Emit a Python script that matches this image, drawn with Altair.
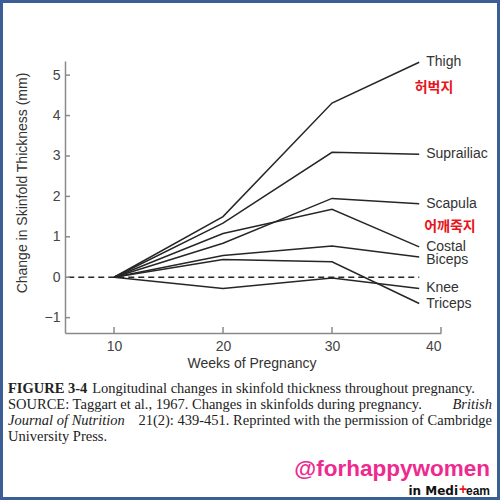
import altair as alt
import pandas as pd

# ---- data ----
weeks = [10, 20, 30, 38]
sites = ["Thigh", "Suprailiac", "Scapula", "Costal", "Biceps", "Knee", "Triceps"]
thigh = [0, 1.50, 4.31, 5.32]
suprailiac = [0, 1.34, 3.09, 3.04]
scapula = [0, 0.84, 1.95, 1.82]
costal = [0, 1.08, 1.68, 0.75]
biceps = [0, 0.54, 0.77, 0.50]
knee = [0, -0.28, -0.02, -0.28]
triceps = [0, 0.44, 0.38, -0.65]
label_y = [5.32, 3.04, 1.81, 0.74, 0.42, -0.27, -0.67]
x_ticks = [10, 20, 30, 40]
y_ticks = [-1, 0, 1, 2, 3, 4, 5]
zero_line_x = [5.8, 38]

series = [thigh, suprailiac, scapula, costal, biceps, knee, triceps]
rows = []
for name, vals in zip(sites, series):
    for w, v in zip(weeks, vals):
        rows.append({"site": name, "week": w, "value": v})
df = pd.DataFrame(rows)
lab_df = pd.DataFrame({"site": sites, "week": [weeks[-1]] * len(sites), "value": label_y})
zero_df = pd.DataFrame({"week": [zero_line_x[0]], "week2": [zero_line_x[1]], "value": [0]})
xt_df = pd.DataFrame({"week": x_ticks})
yt_df = pd.DataFrame({"value": y_ticks})
one = pd.DataFrame({"a": [0]})

W, H = 376, 272
PL, PT, PR, PB = 65, 61, 59, 167

xscale = alt.Scale(domain=[5.5, 40], nice=False, zero=False)
yscale = alt.Scale(domain=[-1.38, 5.35], nice=False, zero=False)

xaxis = alt.Axis(values=x_ticks, ticks=False, grid=False, domainColor="#8a8a8a", domainWidth=1.5,
                 labelColor="#444444", labelFontSize=14, labelPadding=6, title=None,
                 labelFont="Liberation Sans")
yaxis = alt.Axis(values=y_ticks, ticks=False, grid=False, domainColor="#8a8a8a", domainWidth=1.5,
                 labelColor="#444444", labelFontSize=14, labelPadding=5, title=None,
                 labelFont="Liberation Sans")

lines = alt.Chart(df).mark_line(color="#262626", strokeWidth=1.5).encode(
    x=alt.X("week:Q", scale=xscale, axis=xaxis),
    y=alt.Y("value:Q", scale=yscale, axis=yaxis),
    detail="site:N",
)

zero = alt.Chart(zero_df).mark_rule(color="#262626", strokeWidth=1.5, strokeDash=[6, 4]).encode(
    x=alt.X("week:Q", scale=xscale), x2="week2:Q", y=alt.Y("value:Q", scale=yscale)
)

xt = alt.Chart(xt_df).mark_rule(color="#8a8a8a", strokeWidth=1.5).encode(
    x=alt.X("week:Q", scale=xscale), y=alt.value(H), y2=alt.value(H - 6)
)
yt = alt.Chart(yt_df).mark_rule(color="#8a8a8a", strokeWidth=1.5).encode(
    y=alt.Y("value:Q", scale=yscale), x=alt.value(0), x2=alt.value(5)
)

labels = alt.Chart(lab_df).mark_text(align="left", baseline="middle", dx=7, fontSize=14,
                                     font="Liberation Sans", color="#333333").encode(
    x=alt.X("week:Q", scale=xscale), y=alt.Y("value:Q", scale=yscale), text="site:N"
)


def txt(text, x, y, size=13, color="#333333", font="Liberation Sans", weight="normal",
        style="normal", align="left", angle=0, baseline="middle"):
    kw = dict(text=text, fontSize=size, color=color, font=font, fontWeight=weight,
              fontStyle=style, align=align, baseline=baseline)
    if angle:
        kw["angle"] = angle
    return alt.Chart(one).mark_text(**kw).encode(x=alt.value(x - PL), y=alt.value(y - PT))


ytitle = txt("Change in Skinfold Thickness (mm)", 23, 183, size=14, angle=270, align="center")
xtitle = txt("Weeks of Pregnancy", 252, 364, size=14, align="center")

kr1 = txt("허벅지", 434, 88, size=14, color="#e8141c", font="Noto Sans CJK KR", weight="bold", align="center")
kr2 = txt("어깨죽지", 450, 227, size=14, color="#e8141c", font="Noto Sans CJK KR", weight="bold", align="center")

serif = "Liberation Serif"
CAPC = "#222222"
FS = 14.5
cap = [
    txt("FIGURE 3-4", 8, 389, size=FS, font=serif, weight="bold", color=CAPC),
    txt("Longitudinal changes in skinfold thickness throughout pregnancy.", 475, 389, size=FS, font=serif, color=CAPC, align="right"),
    txt("SOURCE: Taggart et al., 1967. Changes in skinfolds during pregnancy.", 8, 405, size=FS, font=serif, color=CAPC),
    txt("British", 492, 405, size=FS, font=serif, style="italic", align="right", color=CAPC),
    txt("Journal of Nutrition", 8, 421, size=FS, font=serif, style="italic", color=CAPC),
    txt("21(2): 439-451. Reprinted with the permission of Cambridge", 492, 421, size=FS, font=serif, align="right", color=CAPC),
    txt("University Press.", 8, 437, size=FS, font=serif, color=CAPC),
]

wm = [
    txt("@forhappywomen", 490, 469, size=22.5, color="#ee2a8f", font="Liberation Sans", weight="bold", align="right"),
    txt("in Medi", 458, 491, size=12, color="#111111", font="DejaVu Sans", weight="bold", align="right"),
    txt("+", 463, 490, size=14, color="#e8141c", font="Liberation Sans", weight="bold", align="center"),
    txt("eam", 490, 491, size=12, color="#111111", font="Liberation Sans", weight="bold", align="right"),
]

border = alt.Chart(one).mark_rect(fill=None, stroke="#3b5e95", strokeWidth=3).encode(
    x=alt.value(-PL + 1.5), x2=alt.value(W + PR - 1.5), y=alt.value(-PT + 1.5), y2=alt.value(H + PB - 1.5)
)

chart = alt.layer(zero, lines, xt, yt, labels, ytitle, xtitle, kr1, kr2, *cap, *wm, border).properties(
    width=W, height=H,
    autosize=alt.AutoSizeParams(type="none"),
    padding={"left": PL, "top": PT, "right": PR, "bottom": PB},
    background="white",
).configure_view(stroke=None)

chart.save("out.html", embed_options={"renderer": "svg", "actions": False})
